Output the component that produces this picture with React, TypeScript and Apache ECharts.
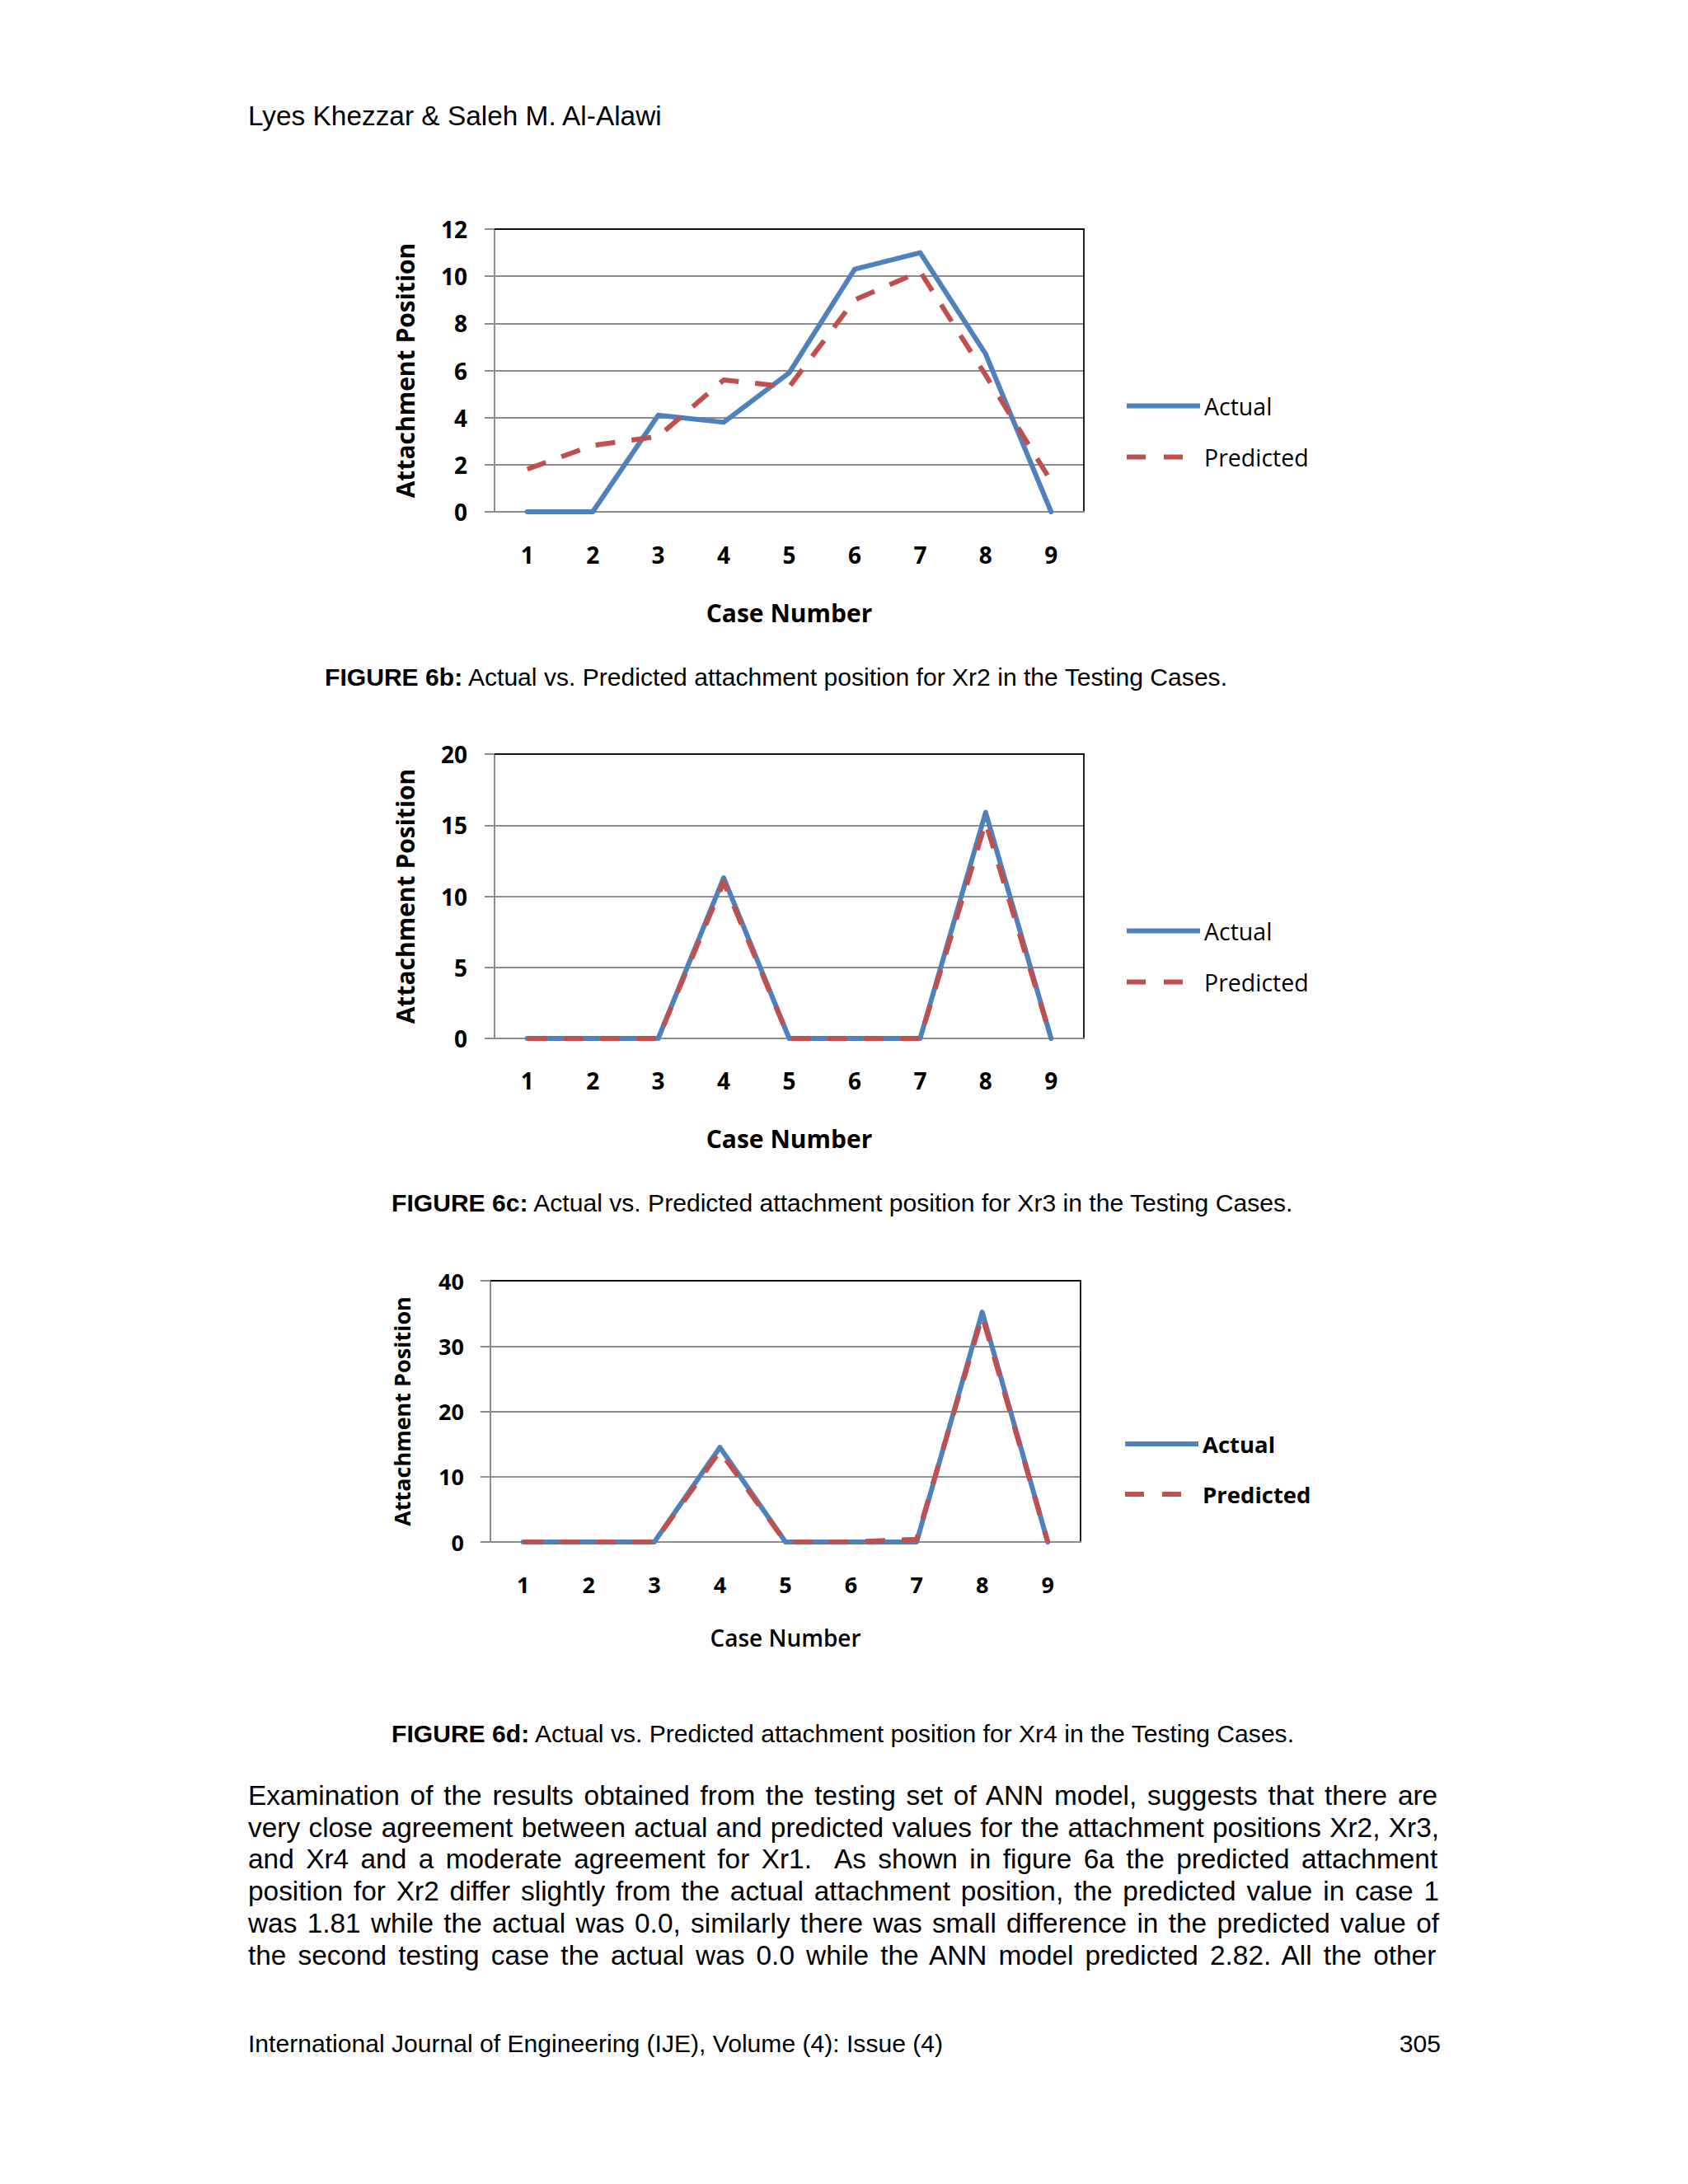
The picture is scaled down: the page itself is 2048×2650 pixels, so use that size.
import React, { useEffect, useRef } from "react";
import * as echarts from "echarts";

const W = 2048;
const H = 2650;

// ---------- data ----------
const CASES = ["1", "2", "3", "4", "5", "6", "7", "8", "9"];
const SERIES_NAMES = ["Actual", "Predicted"];

const XR2_ACTUAL = [0, 0, 4.1, 3.8, 5.9, 10.3, 11.0, 6.7, 0];
const XR2_PREDICTED = [1.81, 2.82, 3.2, 5.6, 5.3, 9.0, 10.2, 5.8, 1.3];

const XR3_ACTUAL = [0, 0, 0, 11.3, 0, 0, 0, 15.9, 0];
const XR3_PREDICTED = [0, 0, 0, 11.0, 0, 0, 0, 15.2, 0];

const XR4_ACTUAL = [0, 0, 0, 14.5, 0, 0, 0, 35.2, 0];
const XR4_PREDICTED = [0, 0, 0, 13.9, 0, 0, 0.4, 34.6, 0];

const Y_MAX = [12, 20, 40];
const Y_INTERVAL = [2, 5, 10];

const X_TITLE = "Case Number";
const Y_TITLE = "Attachment Position";

const HEADER = "Lyes Khezzar & Saleh M. Al-Alawi";
const CAPTIONS = [
  ["FIGURE 6b:", " Actual vs. Predicted attachment position for Xr2 in the Testing Cases."],
  ["FIGURE 6c:", " Actual vs. Predicted attachment position for Xr3 in the Testing Cases."],
  ["FIGURE 6d:", " Actual vs. Predicted attachment position for Xr4 in the Testing Cases."],
];
const PARAGRAPH = [
  "Examination of the results obtained from the testing set of ANN model, suggests that there are",
  "very close agreement between actual and predicted values for the attachment positions Xr2, Xr3,",
  "and Xr4 and a moderate agreement for Xr1.  As shown in figure 6a the predicted attachment",
  "position for Xr2 differ slightly from the actual attachment position, the predicted value in case 1",
  "was 1.81 while the actual was 0.0, similarly there was small difference in the predicted value of",
  "the second testing case the actual was 0.0 while the ANN model predicted 2.82. All the other",
];
const FOOTER = "International Journal of Engineering (IJE), Volume (4): Issue (4)";
const PAGE_NO = "305";

// ---------- layout / style ----------
const BLUE = "#4F81BD";
const RED = "#C0504D";
const GRID_GRAY = "#8C8C8C";
const CHART_FONT = "'Open Sans', 'DejaVu Sans', sans-serif";
const PAGE_FONT = "'Liberation Sans', Arial, sans-serif";
const BODY_SIZE = 33.4;
const SMALL_SIZE = 30.1;

const ICON_SOLID = "path://M0,0h89v6h-89z";
const ICON_DASHED = "path://M0,0h23v6h-23zM45,0h23v6h-23zM88.9,2.9h0.1v0.2h-0.1z";

const PANELS = [
  {
    actual: XR2_ACTUAL, predicted: XR2_PREDICTED,
    left: 600, top: 278, width: 715, height: 343,
    tickFont: 28, xTitleFont: 30, xTitleWeight: "bold", yTitleFont: 30,
    yLabelMargin: 33, xLabelMargin: 38, xNameGap: 107, yNameGap: 94,
    legendLeft: 1367, legendTop: 478, legendFont: 28.5, legendWeight: "normal",
  },
  {
    actual: XR3_ACTUAL, predicted: XR3_PREDICTED,
    left: 600, top: 915, width: 715, height: 345,
    tickFont: 28, xTitleFont: 30, xTitleWeight: "bold", yTitleFont: 30,
    yLabelMargin: 33, xLabelMargin: 37, xNameGap: 106, yNameGap: 94,
    legendLeft: 1367, legendTop: 1115, legendFont: 28.5, legendWeight: "normal",
  },
  {
    actual: XR4_ACTUAL, predicted: XR4_PREDICTED,
    left: 595, top: 1554, width: 716, height: 317,
    tickFont: 27, xTitleFont: 28, xTitleWeight: 600, yTitleFont: 27,
    yLabelMargin: 32, xLabelMargin: 38, xNameGap: 102, yNameGap: 94,
    legendLeft: 1365, legendTop: 1738, legendFont: 27.5, legendWeight: "bold",
  },
];

function buildOption() {
  const grid: any[] = [];
  const xAxis: any[] = [];
  const yAxis: any[] = [];
  const series: any[] = [];
  const legend: any[] = [];

  PANELS.forEach((p, i) => {
    grid.push({ left: p.left, top: p.top, width: p.width, height: p.height, containLabel: false });
    xAxis.push({
      type: "category", gridIndex: i, data: CASES, boundaryGap: true,
      name: X_TITLE, nameLocation: "middle", nameGap: p.xNameGap,
      nameTextStyle: { fontFamily: CHART_FONT, fontSize: p.xTitleFont, fontWeight: p.xTitleWeight, color: "#000", lineHeight: p.xTitleFont },
      axisLine: { show: true, lineStyle: { color: GRID_GRAY, width: 2 } },
      axisTick: { show: false },
      axisLabel: { margin: p.xLabelMargin, fontFamily: CHART_FONT, fontSize: p.tickFont, fontWeight: "bold", color: "#000", lineHeight: p.tickFont },
      splitLine: { show: false },
    });
    yAxis.push({
      type: "value", gridIndex: i, min: 0, max: Y_MAX[i], interval: Y_INTERVAL[i],
      name: Y_TITLE, nameLocation: "middle", nameRotate: 90, nameGap: p.yNameGap,
      nameTextStyle: { fontFamily: CHART_FONT, fontSize: p.yTitleFont, fontWeight: "bold", color: "#000", lineHeight: p.yTitleFont },
      axisLine: { show: true, lineStyle: { color: GRID_GRAY, width: 2 } },
      axisTick: { show: true, inside: false, length: 12, lineStyle: { color: GRID_GRAY, width: 2 } },
      axisLabel: { margin: p.yLabelMargin, fontFamily: CHART_FONT, fontSize: p.tickFont, fontWeight: "bold", color: "#000", lineHeight: p.tickFont },
      splitLine: { show: true, showMaxLine: false, showMinLine: false, lineStyle: { color: GRID_GRAY, width: 2 } },
    });
    series.push({
      name: SERIES_NAMES[0], type: "line", xAxisIndex: i, yAxisIndex: i, data: p.actual,
      symbol: "none", showSymbol: false, z: 3,
      lineStyle: { color: BLUE, width: 6, cap: "round", join: "round" },
      itemStyle: { color: BLUE },
    });
    series.push({
      name: SERIES_NAMES[1], type: "line", xAxisIndex: i, yAxisIndex: i, data: p.predicted,
      symbol: "none", showSymbol: false, z: 4,
      lineStyle: { color: RED, width: 6, type: [24, 20], join: "round" },
      itemStyle: { color: RED },
    });
    legend.push({
      orient: "vertical", left: p.legendLeft, top: p.legendTop, padding: 0,
      itemWidth: 89, itemHeight: 6, itemGap: 33, selectedMode: false,
      data: [
        { name: SERIES_NAMES[0], icon: ICON_SOLID },
        { name: SERIES_NAMES[1], icon: ICON_DASHED },
      ],
      textStyle: { fontFamily: CHART_FONT, fontSize: p.legendFont, fontWeight: p.legendWeight, color: "#000", lineHeight: 28 },
    });
  });

  // frame axes (top & right border of each plot area)
  PANELS.forEach((p, i) => {
    xAxis.push({
      type: "category", gridIndex: i, data: CASES, position: "top",
      axisLine: { show: true, onZero: false, lineStyle: { color: "#111", width: 2 } },
      axisTick: { show: false }, axisLabel: { show: false }, splitLine: { show: false },
    });
    yAxis.push({
      type: "value", gridIndex: i, min: 0, max: Y_MAX[i], interval: Y_INTERVAL[i], position: "right",
      axisLine: { show: true, onZero: false, lineStyle: { color: "#222", width: 2 } },
      axisTick: { show: false }, axisLabel: { show: false }, splitLine: { show: false },
    });
  });

  return {
    animation: false,
    backgroundColor: "transparent",
    grid, xAxis, yAxis, series, legend,
  };
}

let measureCtx: CanvasRenderingContext2D | null = null;
function measure(text: string, font: string) {
  if (!measureCtx) measureCtx = document.createElement("canvas").getContext("2d");
  measureCtx!.font = font;
  return measureCtx!.measureText(text).width;
}

function PageText({ x, cy, children, size = BODY_SIZE, right = false }: any) {
  const style: React.CSSProperties = {
    position: "absolute",
    top: cy - size * 0.49,
    fontFamily: PAGE_FONT,
    fontSize: size,
    lineHeight: `${size}px`,
    whiteSpace: "pre",
    color: "#000",
  };
  if (right) style.right = W - x;
  else style.left = x;
  return <div style={style}>{children}</div>;
}

function JustLine({ x, cy, width, text }: any) {
  const natural = measure(text, `${BODY_SIZE}px ${PAGE_FONT}`);
  const spaces = (text.match(/ /g) || []).length;
  const ws = spaces > 0 ? (width - natural) / spaces : 0;
  return (
    <div
      style={{
        position: "absolute", left: x, top: cy - BODY_SIZE * 0.49,
        fontFamily: PAGE_FONT, fontSize: BODY_SIZE, lineHeight: `${BODY_SIZE}px`,
        whiteSpace: "pre", wordSpacing: `${ws}px`, color: "#000",
      }}
    >
      {text}
    </div>
  );
}

const CAPTION_POS = [
  { x: 394, cy: 822 },
  { x: 475, cy: 1460 },
  { x: 475, cy: 2104 },
];

export default function App() {
  const ref = useRef<HTMLDivElement>(null);
  useEffect(() => {
    const chart = echarts.init(ref.current!, null, { renderer: "svg", width: W, height: H });
    chart.setOption(buildOption());
    return () => chart.dispose();
  }, []);

  return (
    <div style={{ position: "absolute", left: 0, top: 0, width: W, height: H, background: "#fff", overflow: "hidden" }}>
      <div ref={ref} style={{ position: "absolute", left: 0, top: 0, width: W, height: H }} />
      <PageText x={301} cy={140}>{HEADER}</PageText>
      {CAPTIONS.map((c, i) => (
        <PageText key={i} x={CAPTION_POS[i].x} cy={CAPTION_POS[i].cy} size={SMALL_SIZE}>
          <b>{c[0]}</b>
          {c[1]}
        </PageText>
      ))}
      {PARAGRAPH.map((t, i) => (
        <JustLine key={i} x={301} cy={2178 + i * 38.9} width={1445} text={t} />
      ))}
      <PageText x={301} cy={2480} size={SMALL_SIZE}>{FOOTER}</PageText>
      <PageText x={1748} cy={2480} size={SMALL_SIZE} right>{PAGE_NO}</PageText>
    </div>
  );
}
